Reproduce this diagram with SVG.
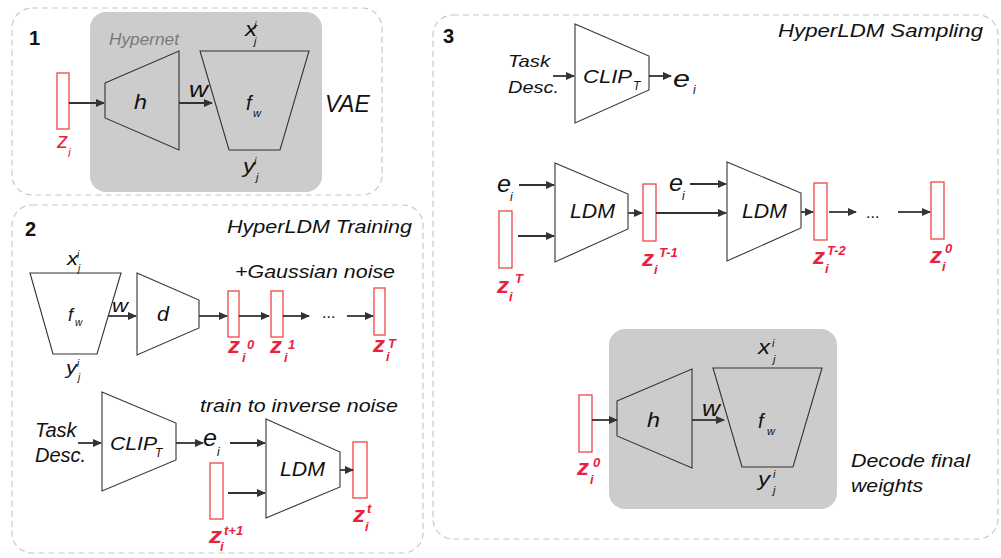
<svg xmlns="http://www.w3.org/2000/svg" width="1001" height="558" viewBox="0 0 1001 558">
  <style>
    text { font-family: "Liberation Sans", Arial, sans-serif; font-style: italic; fill: #111; }
    .num { font-style: normal; font-weight: bold; font-size: 20px; }
    .ttl { font-size: 18px; }
    .red { fill: #e8233f; }
    .rz { fill: #e8233f; font-weight: bold; font-size: 22px; }
    .rs { fill: #e8233f; font-weight: bold; font-size: 13px; }
    .sm { font-size: 11px; }
    .panel { fill: none; stroke: #c8c8c8; stroke-width: 1.2; stroke-dasharray: 6 4; }
    .gbox { fill: #cccccc; stroke: none; }
    .trap { fill: none; stroke: #333; stroke-width: 1.1; }
    .lat { fill: #fff; stroke: #f04545; stroke-width: 1.3; }
    .arr { stroke: #333; stroke-width: 1.8; fill: none; marker-end: url(#ah); }
  </style>
  <defs>
    <marker id="ah" markerUnits="userSpaceOnUse" markerWidth="9" markerHeight="8" refX="8" refY="4" orient="auto">
      <path d="M0,0 L9,4 L0,8 z" fill="#333"/>
    </marker>
  </defs>

  <!-- panel frames -->
  <g id="panel1">
    <rect class="panel" x="12" y="8" width="370" height="187" rx="20"/>
    <rect class="gbox" x="90" y="12" width="232" height="180" rx="16"/>
    <text class="num" x="29" y="45">1</text>
    <text x="109" y="45" font-size="16.5" style="fill:#7a7a7a" textLength="70" lengthAdjust="spacingAndGlyphs">Hypernet</text>
    <text x="325" y="112" font-size="23">VAE</text>
  </g>
  <g id="panel2">
    <rect class="panel" x="12" y="205" width="411" height="348" rx="20"/>
    <text class="num" x="25" y="236">2</text>
    <text class="ttl" x="227" y="233" textLength="185" lengthAdjust="spacingAndGlyphs">HyperLDM Training</text>
    <text class="ttl" x="235" y="278" textLength="160" lengthAdjust="spacingAndGlyphs">+Gaussian noise</text>
    <text class="ttl" x="200" y="412" textLength="198" lengthAdjust="spacingAndGlyphs">train to inverse noise</text>
  </g>
  <g id="panel3">
    <rect class="panel" x="433" y="15" width="565" height="524" rx="20"/>
    <rect class="gbox" x="609" y="329" width="228" height="180" rx="16"/>
    <text class="num" x="443" y="43" font-size="19">3</text>
    <text class="ttl" x="778" y="37" textLength="205" lengthAdjust="spacingAndGlyphs">HyperLDM Sampling</text>
    <text x="851" y="467" font-size="19" textLength="119" lengthAdjust="spacingAndGlyphs">Decode final</text>
    <text x="851" y="492" font-size="19" textLength="72" lengthAdjust="spacingAndGlyphs">weights</text>
  </g>

  <!-- panel 1 nodes -->
  <g id="p1-z">
    <rect class="lat" x="57" y="73" width="12" height="56"/>
    <text class="red" x="57" y="148" font-size="22" textLength="11" lengthAdjust="spacingAndGlyphs">z</text>
    <text class="red" x="68" y="157" font-size="12">i</text>
  </g>
  <g id="p1-h">
    <polygon class="trap" points="105,83 179,51 179,150 105,118"/>
    <text x="134" y="109" font-size="21" textLength="13" lengthAdjust="spacingAndGlyphs">h</text>
  </g>
  <g id="p1-f">
    <polygon class="trap" points="200,51 309,51 280,150 229,150"/>
    <text x="246" y="110" font-size="20">f</text>
    <text class="sm" x="253" y="117">w</text>
    <text x="245" y="36" font-size="21" textLength="12" lengthAdjust="spacingAndGlyphs">x</text>
    <text class="sm" x="254" y="29">i</text>
    <text class="sm" x="254" y="45">j</text>
    <text x="243" y="173" font-size="21" textLength="12" lengthAdjust="spacingAndGlyphs">y</text>
    <text class="sm" x="254" y="165">i</text>
    <text class="sm" x="256" y="181">j</text>
  </g>

  <!-- panel 2 nodes -->
  <g id="p2-f">
    <polygon class="trap" points="30,273 121,273 97,354 53,354"/>
    <text x="67" y="265" font-size="19" textLength="11" lengthAdjust="spacingAndGlyphs">x</text>
    <text x="77" y="258" font-size="10">i</text>
    <text x="78" y="272" font-size="10">j</text>
    <text x="68" y="321" font-size="18">f</text>
    <text x="75" y="326" font-size="10">w</text>
    <text x="66" y="374" font-size="19" textLength="11" lengthAdjust="spacingAndGlyphs">y</text>
    <text x="77" y="367" font-size="10">i</text>
    <text x="78" y="381" font-size="10">j</text>
  </g>
  <g id="p2-d">
    <polygon class="trap" points="137,273 199,300 199,328 137,355"/>
    <text x="157" y="321" font-size="20" textLength="12" lengthAdjust="spacingAndGlyphs">d</text>
  </g>
  <g id="p2-z0">
    <rect class="lat" x="228" y="291" width="11" height="46"/>
    <text class="rz" x="228" y="353" textLength="12" lengthAdjust="spacingAndGlyphs">z</text>
    <text class="rs" x="247" y="349">0</text>
    <text class="rs" x="242" y="362">i</text>
  </g>
  <g id="p2-z1">
    <rect class="lat" x="271" y="291" width="12" height="46"/>
    <text class="rz" x="270" y="353" textLength="12" lengthAdjust="spacingAndGlyphs">z</text>
    <text class="rs" x="288" y="349">1</text>
    <text class="rs" x="284" y="362">i</text>
  </g>
  <g id="p2-zT">
    <rect class="lat" x="374" y="288" width="11" height="47"/>
    <text class="rz" x="373" y="352" textLength="12" lengthAdjust="spacingAndGlyphs">z</text>
    <text class="rs" x="388" y="348">T</text>
    <text class="rs" x="386" y="361">i</text>
  </g>
  <g id="p2-task">
    <text x="35" y="437" font-size="20">Task</text>
    <text x="35" y="462" font-size="20">Desc.</text>
  </g>
  <g id="p2-clip">
    <polygon class="trap" points="102,392 176,423 176,460 102,491"/>
    <text x="110" y="450" font-size="19" textLength="47" lengthAdjust="spacingAndGlyphs">CLIP</text>
    <text x="155" y="457" font-size="12">T</text>
  </g>
  <g id="p2-e">
    <text x="203" y="446" font-size="23" textLength="14" lengthAdjust="spacingAndGlyphs">e</text>
    <text x="217" y="456" font-size="12">i</text>
  </g>
  <g id="p2-ldm">
    <polygon class="trap" points="266,419 340,452 340,487 266,518"/>
    <text x="280" y="476" font-size="20" textLength="45" lengthAdjust="spacingAndGlyphs">LDM</text>
  </g>
  <g id="p2-zt1">
    <rect class="lat" x="210" y="463" width="13" height="56"/>
    <text class="rz" x="209" y="543" textLength="13" lengthAdjust="spacingAndGlyphs">z</text>
    <text class="rs" x="224" y="535">t+1</text>
    <text class="rs" x="220" y="551">i</text>
  </g>
  <g id="p2-zt">
    <rect class="lat" x="353" y="442" width="14" height="56"/>
    <text class="rz" x="353" y="522" textLength="12" lengthAdjust="spacingAndGlyphs">z</text>
    <text class="rs" x="367" y="513">t</text>
    <text class="rs" x="365" y="531">i</text>
  </g>

  <!-- panel 3 nodes -->
  <g id="p3-task">
    <text x="508" y="67" font-size="17" textLength="42" lengthAdjust="spacingAndGlyphs">Task</text>
    <text x="508" y="93" font-size="17" textLength="51" lengthAdjust="spacingAndGlyphs">Desc.</text>
  </g>
  <g id="p3-clip">
    <polygon class="trap" points="575,24 649,56 649,90 575,123"/>
    <text x="583" y="83" font-size="18" textLength="49" lengthAdjust="spacingAndGlyphs">CLIP</text>
    <text x="633" y="90" font-size="12">T</text>
  </g>
  <g id="p3-e">
    <text x="673" y="87" font-size="23" textLength="17" lengthAdjust="spacingAndGlyphs">e</text>
    <text x="693" y="94" font-size="12">i</text>
  </g>
  <g id="p3-e1">
    <text x="497" y="192" font-size="23" textLength="14" lengthAdjust="spacingAndGlyphs">e</text>
    <text x="510" y="201" font-size="12">i</text>
  </g>
  <g id="p3-zT">
    <rect class="lat" x="499" y="211" width="13" height="57"/>
    <text class="rz" x="497" y="293" textLength="12" lengthAdjust="spacingAndGlyphs">z</text>
    <text class="rs" x="515" y="283">T</text>
    <text class="rs" x="509" y="301">i</text>
  </g>
  <g id="p3-ldm1">
    <polygon class="trap" points="555,163 628,194 628,229 555,262"/>
    <text x="570" y="218" font-size="21" textLength="45" lengthAdjust="spacingAndGlyphs">LDM</text>
  </g>
  <g id="p3-zT1">
    <rect class="lat" x="643" y="184" width="13" height="57"/>
    <text class="rz" x="642" y="266" textLength="12" lengthAdjust="spacingAndGlyphs">z</text>
    <text class="rs" x="659" y="257">T-1</text>
    <text class="rs" x="654" y="274">i</text>
  </g>
  <g id="p3-e2">
    <text x="669" y="191" font-size="23" textLength="14" lengthAdjust="spacingAndGlyphs">e</text>
    <text x="682" y="200" font-size="12">i</text>
  </g>
  <g id="p3-ldm2">
    <polygon class="trap" points="727,162 801,193 801,228 727,261"/>
    <text x="742" y="218" font-size="21" textLength="45" lengthAdjust="spacingAndGlyphs">LDM</text>
  </g>
  <g id="p3-zT2">
    <rect class="lat" x="814" y="183" width="13" height="57"/>
    <text class="rz" x="813" y="264" textLength="12" lengthAdjust="spacingAndGlyphs">z</text>
    <text class="rs" x="827" y="255">T-2</text>
    <text class="rs" x="825" y="273">i</text>
  </g>
  <g id="p3-z0">
    <rect class="lat" x="931" y="182" width="13" height="57"/>
    <text class="rz" x="930" y="263" textLength="12" lengthAdjust="spacingAndGlyphs">z</text>
    <text class="rs" x="945" y="253">0</text>
    <text class="rs" x="942" y="271">i</text>
  </g>
  <g id="p3-dec-z0">
    <rect class="lat" x="579" y="395" width="13" height="57"/>
    <text class="rz" x="577" y="475" textLength="12" lengthAdjust="spacingAndGlyphs">z</text>
    <text class="rs" x="593" y="467">0</text>
    <text class="rs" x="590" y="484">i</text>
  </g>
  <g id="p3-h">
    <polygon class="trap" points="617,401 692,369 692,468 617,436"/>
    <text x="647" y="427" font-size="21" textLength="13" lengthAdjust="spacingAndGlyphs">h</text>
  </g>
  <g id="p3-f">
    <polygon class="trap" points="713,368 822,368 793,467 742,467"/>
    <text x="758" y="428" font-size="20">f</text>
    <text class="sm" x="767" y="435">w</text>
    <text x="758" y="354" font-size="21" textLength="12" lengthAdjust="spacingAndGlyphs">x</text>
    <text class="sm" x="772" y="347">i</text>
    <text class="sm" x="773" y="363">j</text>
    <text x="758" y="486" font-size="21" textLength="12" lengthAdjust="spacingAndGlyphs">y</text>
    <text class="sm" x="773" y="478">i</text>
    <text class="sm" x="773" y="494">j</text>
  </g>

  <!-- connectors -->
  <g id="connectors">
    <line class="arr" x1="69" y1="103" x2="104" y2="103"/>
    <line class="arr" x1="179" y1="103" x2="212" y2="103"/>
    <text x="189" y="97" font-size="22" textLength="19" lengthAdjust="spacingAndGlyphs">w</text>

    <line class="arr" x1="108" y1="316" x2="136" y2="316"/>
    <text x="112" y="312" font-size="19" textLength="16" lengthAdjust="spacingAndGlyphs">w</text>
    <line class="arr" x1="199" y1="316" x2="227" y2="316"/>
    <line class="arr" x1="239" y1="316" x2="269" y2="316"/>
    <line class="arr" x1="283" y1="316" x2="309" y2="316"/>
    <text x="322" y="318" font-size="16" style="font-style:normal">...</text>
    <line class="arr" x1="347" y1="316" x2="373" y2="316"/>

    <line class="arr" x1="78" y1="443" x2="101" y2="443"/>
    <line class="arr" x1="176" y1="443" x2="203" y2="443"/>
    <line class="arr" x1="230" y1="443" x2="265" y2="443"/>
    <line class="arr" x1="228" y1="493" x2="265" y2="493"/>
    <line class="arr" x1="340" y1="470" x2="353" y2="470"/>

    <line class="arr" x1="553" y1="76" x2="574" y2="76"/>
    <line class="arr" x1="649" y1="76" x2="671" y2="76"/>

    <line class="arr" x1="519" y1="185" x2="554" y2="185"/>
    <line class="arr" x1="518" y1="236" x2="554" y2="236"/>
    <line class="arr" x1="628" y1="213" x2="642" y2="213"/>
    <line class="arr" x1="656" y1="213" x2="726" y2="213"/>
    <line class="arr" x1="690" y1="184" x2="726" y2="184"/>
    <line class="arr" x1="801" y1="212" x2="813" y2="212"/>
    <line class="arr" x1="829" y1="212" x2="856" y2="212"/>
    <text x="866" y="218" font-size="16" style="font-style:normal">...</text>
    <line class="arr" x1="898" y1="212" x2="930" y2="212"/>

    <line class="arr" x1="592" y1="420" x2="617" y2="420"/>
    <line class="arr" x1="692" y1="420" x2="724" y2="420"/>
    <text x="702" y="416" font-size="22" textLength="18" lengthAdjust="spacingAndGlyphs">w</text>
  </g>
</svg>
